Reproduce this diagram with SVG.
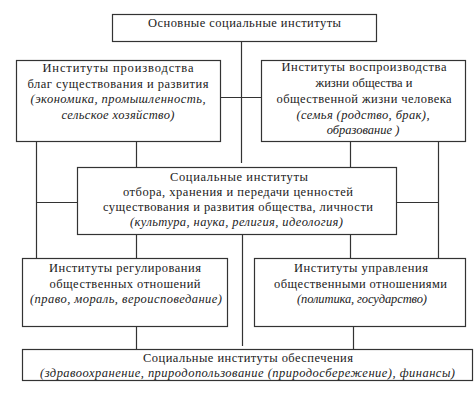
<svg xmlns="http://www.w3.org/2000/svg" width="474" height="409" viewBox="0 0 474 409">
<style>
.box{fill:#fff;stroke:#333;stroke-width:1.2}
.ln{stroke:#333;stroke-width:1.2;fill:none}
text{font-family:'Liberation Serif','DejaVu Serif',serif;font-size:12.5px;fill:#222;text-anchor:middle}
.it{font-style:italic}
</style>
<rect width="474" height="409" fill="#fff"/>
<g id="connectors">
<path class="ln" d="M241.5 41V163 M221 97.5H261 M36.5 141V258 M36.5 202.5H77 M438.5 142V258 M397 202.5H438.5 M136.5 141V167 M136.5 235V258 M136.5 327V349 M350.5 142V167 M350.5 235V258 M242.5 235V346 M353.5 327V349"/>
</g>
<g id="n-main">
<rect class="box" x="112.5" y="14.5" width="264" height="27"/>
<text x="244.5" y="27" textLength="193">Основные социальные институты</text>
</g>
<g id="n-production">
<rect class="box" x="16.5" y="60.5" width="204" height="81"/>
<text x="118" y="72" textLength="151">Институты производства</text>
<text x="118" y="87.5" textLength="181">благ существования и развития</text>
<text class="it" x="118" y="103" textLength="175">(экономика, промышленность,</text>
<text class="it" x="118" y="118.5" textLength="113">сельское хозяйство)</text>
</g>
<g id="n-reproduction">
<rect class="box" x="261.5" y="60.5" width="204" height="81"/>
<text x="364" y="71" textLength="165">Институты воспроизводства</text>
<text x="364" y="87">жизни общества и</text>
<text x="364" y="103" textLength="175">общественной жизни человека</text>
<text class="it" x="363" y="118.5" textLength="133">(семья (родство, брак),</text>
<text class="it" x="363" y="134">образование )</text>
</g>
<g id="n-values">
<rect class="box" x="77.5" y="167.5" width="319" height="67"/>
<text x="239" y="181" textLength="138">Социальные институты</text>
<text x="238" y="196" textLength="230">отбора, хранения и передачи ценностей</text>
<text x="238" y="211" textLength="270">существования и развития общества, личности</text>
<text class="it" x="236.5" y="226" textLength="213">(культура, наука, религия, идеология)</text>
</g>
<g id="n-regulation">
<rect class="box" x="22.5" y="258.5" width="205" height="68"/>
<text x="125" y="272" textLength="152">Институты регулирования</text>
<text x="125" y="287.5" textLength="151">общественных отношений</text>
<text class="it" x="126" y="303" textLength="192">(право, мораль, вероисповедание)</text>
</g>
<g id="n-management">
<rect class="box" x="254.5" y="258.5" width="211" height="68"/>
<text x="361" y="272" textLength="134">Институты управления</text>
<text x="360.5" y="287.5" textLength="173">общественными отношениями</text>
<text class="it" x="362" y="303" textLength="130">(политика, государство)</text>
</g>
<g id="n-support">
<rect class="box" x="22.5" y="349.5" width="450" height="31"/>
<text x="248" y="362" textLength="210">Социальные институты обеспечения</text>
<text class="it" x="247.5" y="377" textLength="415">(здравоохранение, природопользование (природосбережение), финансы)</text>
</g>
</svg>
